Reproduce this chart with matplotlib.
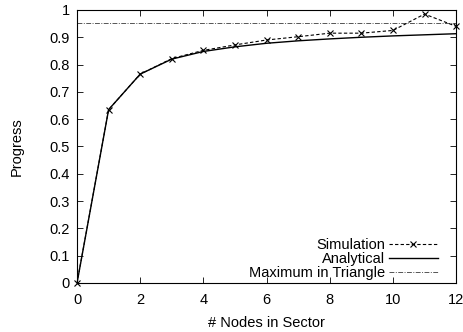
import matplotlib
matplotlib.use("Agg")
import matplotlib.pyplot as plt
from matplotlib.lines import Line2D

nodes = [0, 1, 2, 3, 4, 5, 6, 7, 8, 9, 10, 11, 12]
simulation = [0.0, 0.635, 0.765, 0.822, 0.852, 0.872, 0.89, 0.902, 0.915, 0.915, 0.925, 0.985, 0.94]
analytical = [0.0, 0.635, 0.765, 0.82, 0.848, 0.865, 0.878, 0.887, 0.894, 0.9, 0.905, 0.909, 0.913]
max_triangle = 0.952

plt.rcParams['font.family'] = ['Liberation Sans', 'DejaVu Sans']
plt.rcParams['font.size'] = 10.5

fig = plt.figure(figsize=(4.64, 3.32), dpi=100)
ax = fig.add_axes([0.166, 0.1476, 0.817, 0.8224])

sim_style = dict(color='black', linestyle=(0, (3, 2)), linewidth=0.8,
                 marker='x', markersize=5, markeredgewidth=0.8)
ana_style = dict(color='black', linestyle='-', linewidth=1.0)
max_style = dict(color='#555555', linestyle=(0, (5, 1.5, 1, 1.5)), linewidth=0.7)

ax.plot(nodes, simulation, clip_on=False, zorder=3, **sim_style)
ax.plot(nodes, analytical, zorder=2, **ana_style)
ax.axhline(max_triangle, **max_style)

ax.set_xlim(0, 12)
ax.set_ylim(0, 1)
ax.set_xticks(range(0, 13, 2))
ax.set_yticks([i / 10 for i in range(11)])
ax.set_yticklabels(['0'] + [f'{i / 10:.1f}' for i in range(1, 10)] + ['1'])
ax.tick_params(direction='in', top=True, right=True, length=4, width=0.6, pad=5)
ax.tick_params(axis='x', pad=7)
for s in ax.spines.values():
    s.set_linewidth(0.8)

ax.set_xlabel('# Nodes in Sector', labelpad=7)
ax.set_ylabel('Progress', labelpad=19)

handles = [Line2D([], [], **sim_style), Line2D([], [], **ana_style), Line2D([], [], **max_style)]
ax.legend(handles, ['Simulation', 'Analytical', 'Maximum in Triangle'], loc='lower right',
          bbox_to_anchor=(0.9525, 0.011), frameon=False, markerfirst=False,
          handlelength=3.4, handletextpad=0.25, labelspacing=0.0, borderpad=0,
          borderaxespad=0)

fig.savefig('out.png', dpi=100)
